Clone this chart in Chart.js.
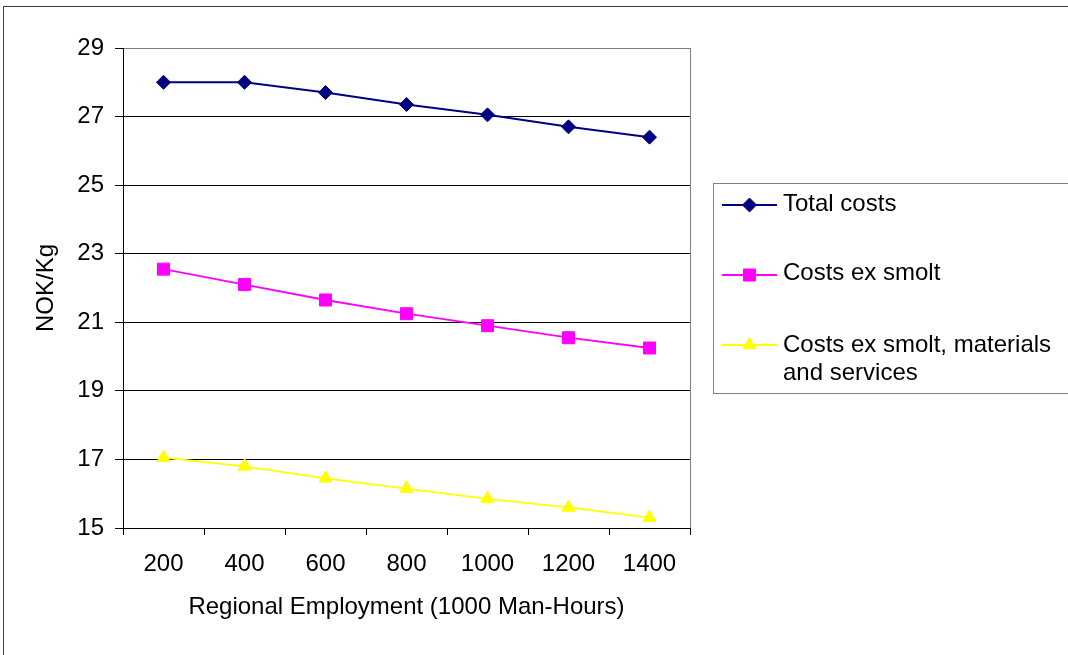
<!DOCTYPE html>
<html>
<head>
<meta charset="utf-8">
<title>NOK/Kg vs Regional Employment</title>
<script src="https://cdn.jsdelivr.net/npm/chart.js@4/dist/chart.umd.min.js"></script>
<style>
  html, body { margin: 0; padding: 0; background: #fff; }
  #wrap { width: 1068px; height: 655px; }
</style>
</head>
<body>
<div id="wrap"><canvas id="costChart" width="1068" height="655"></canvas></div>
<script>
// Kostnad per kg ved ulik regional sysselsetting
const categories = ['200', '400', '600', '800', '1000', '1200', '1400'];
const totalCosts = [28.0, 28.0, 27.7, 27.35, 27.05, 26.7, 26.4];
const costsExSmolt = [22.55, 22.1, 21.65, 21.25, 20.9, 20.55, 20.25];
const costsExSmoltMaterials = [17.05, 16.8, 16.45, 16.15, 15.85, 15.6, 15.3];
const yTicks = [15, 17, 19, 21, 23, 25, 27, 29];

// legend text, one array per series (second line wraps)
const legendLines = [
    ['Total costs'],
    ['Costs ex smolt'],
    ['Costs ex smolt, materials', 'and services'],
];

const FONT = '"Liberation Sans", Arial, sans-serif';
const font24 = { family: FONT, size: 24 };

// outer frame + grey right edge of the plot area
const chartFrame = {
    id: 'chartFrame',
    beforeDraw(chart) {
        const ctx = chart.ctx;
        ctx.save();
        ctx.strokeStyle = '#404040';
        ctx.lineWidth = 1;
        ctx.strokeRect(3.5, 6.5, 2000, 2000);
        ctx.restore();
    },
    beforeDatasetsDraw(chart) {
        const { ctx, chartArea } = chart;
        ctx.save();
        ctx.strokeStyle = '#808080';
        ctx.lineWidth = 1;
        ctx.beginPath();
        ctx.moveTo(Math.round(chartArea.right) + 0.5, chartArea.top);
        ctx.lineTo(Math.round(chartArea.right) + 0.5, chartArea.bottom);
        ctx.stroke();
        ctx.restore();
    }
};

// boxed legend to the right of the plot
const boxLegend = {
    id: 'boxLegend',
    afterDraw(chart) {
        const ctx = chart.ctx;
        const rowY = [205, 275, 345];
        const baseY = [211, 280, 352];
        ctx.save();
        ctx.strokeStyle = '#808080';
        ctx.lineWidth = 1;
        ctx.strokeRect(713.5, 183.5, 500, 210);

        chart.data.datasets.forEach((ds, i) => {
            const y = rowY[i];
            ctx.strokeStyle = ds.borderColor;
            ctx.lineWidth = ds.borderWidth;
            ctx.beginPath();
            ctx.moveTo(722, y);
            ctx.lineTo(777, y);
            ctx.stroke();

            ctx.fillStyle = ds.pointBackgroundColor;
            ctx.strokeStyle = ds.pointBorderColor;
            ctx.lineWidth = ds.pointBorderWidth;
            Chart.helpers.drawPoint(ctx, {
                pointStyle: ds.pointStyle,
                radius: ds.pointRadius,
                borderWidth: ds.pointBorderWidth,
                rotation: 0
            }, 749.5, y);

            ctx.fillStyle = '#000';
            ctx.font = '24px ' + FONT;
            ctx.textAlign = 'left';
            ctx.textBaseline = 'alphabetic';
            legendLines[i].forEach((txt, j) => {
                ctx.fillText(txt, 783, baseY[i] + j * 27.5);
            });
        });
        ctx.restore();
    }
};

function series(label, data, color, style, radius, width) {
    return {
        label: label,
        data: data,
        borderColor: color,
        backgroundColor: color,
        borderWidth: width,
        pointStyle: style,
        pointRadius: radius,
        pointBackgroundColor: color,
        pointBorderColor: color,
        pointBorderWidth: 1,
        tension: 0,
        fill: false,
    };
}

new Chart(document.getElementById('costChart'), {
    type: 'line',
    data: {
        labels: categories,
        datasets: [
            series('Total costs', totalCosts, '#000080', 'rectRot', 7, 2),
            series('Costs ex smolt', costsExSmolt, '#FF00FF', 'rect', 8.5, 1.8),
            series('Costs ex smolt, materials and services', costsExSmoltMaterials, '#FFFF00', 'triangle', 7.5, 1.8),
        ]
    },
    options: {
        responsive: false,
        animation: false,
        events: [],
        layout: { padding: { top: 48, right: 378, left: 0, bottom: 0 } },
        plugins: {
            legend: { display: false },
            tooltip: { enabled: false },
        },
        scales: {
            x: {
                offset: true,
                grid: {
                    offset: true,
                    drawOnChartArea: false,
                    drawTicks: true,
                    tickLength: 7,
                    tickColor: '#000',
                },
                border: { color: '#000', width: 1 },
                ticks: { color: '#000', font: font24, padding: 15, maxRotation: 0, autoSkip: false },
                title: {
                    display: true,
                    text: 'Regional Employment (1000 Man-Hours)',
                    color: '#000',
                    font: font24,
                    padding: { top: 0, bottom: 33 },
                },
                afterFit(scale) { scale.height = 127; },
            },
            y: {
                min: yTicks[0],
                max: yTicks[yTicks.length - 1],
                afterBuildTicks(scale) {
                    scale.ticks = yTicks.map(v => ({ value: v }));
                },
                grid: {
                    color: c => (c.tick && c.tick.value === yTicks[yTicks.length - 1]) ? '#808080' : '#000',
                    tickLength: 8,
                    tickColor: '#000',
                },
                border: { color: '#000', width: 1 },
                ticks: { color: '#000', font: font24, padding: 11 },
                title: {
                    display: true,
                    text: 'NOK/Kg',
                    color: '#000',
                    font: font24,
                    padding: { top: 32, bottom: 0 },
                },
                afterFit(scale) { scale.width = 123; },
            }
        }
    },
    plugins: [chartFrame, boxLegend]
});
</script>
</body>
</html>
